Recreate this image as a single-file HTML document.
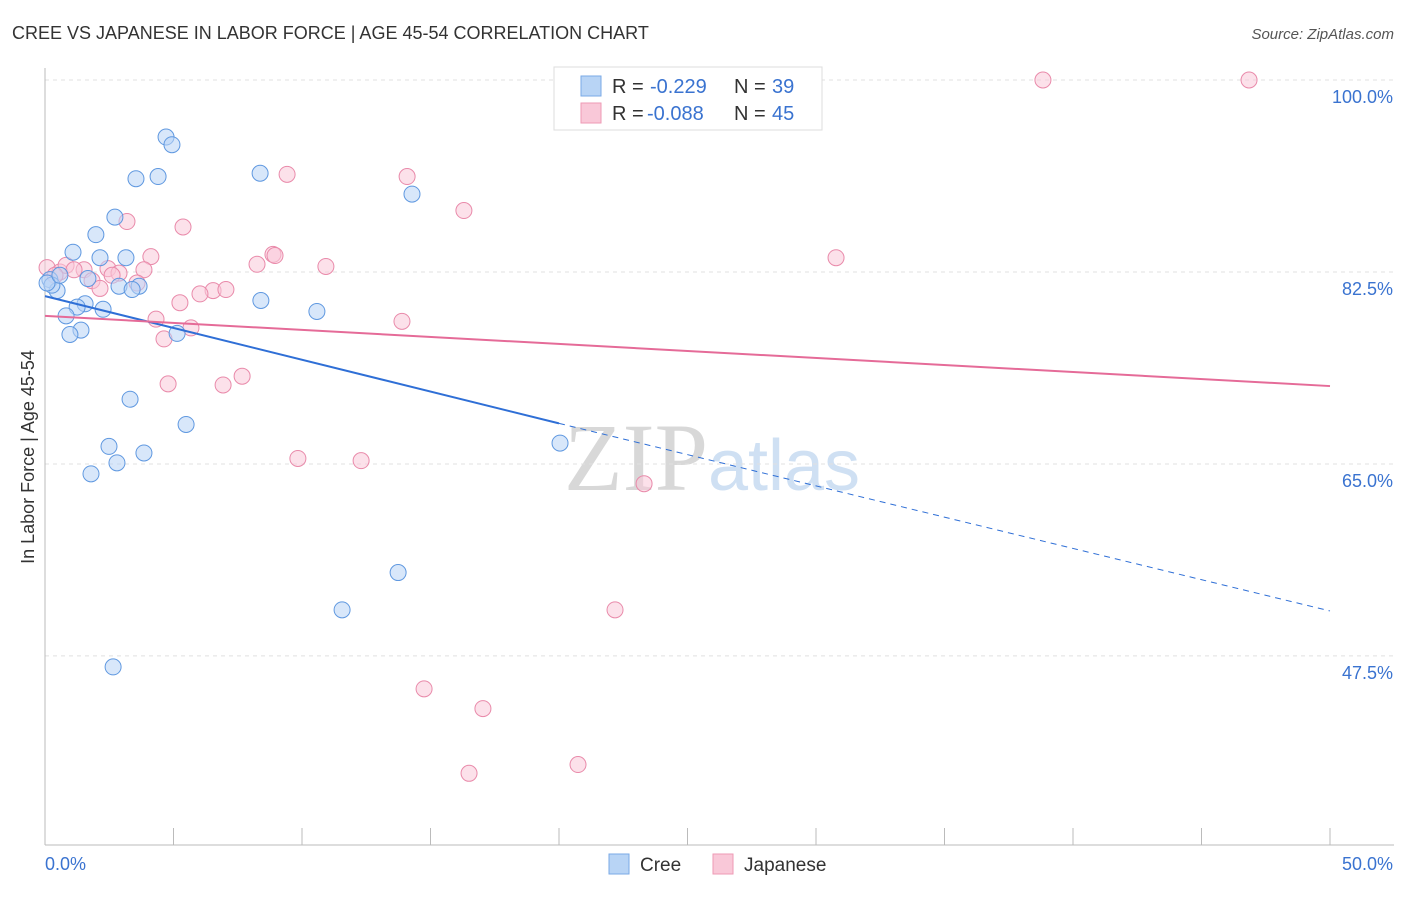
<!DOCTYPE html>
<html><head><meta charset="utf-8"><style>
body{margin:0;background:#fff;font-family:"Liberation Sans",sans-serif;}
svg text{font-family:"Liberation Sans",sans-serif;}
</style></head><body>
<svg id="chart" width="1406" height="892" xmlns="http://www.w3.org/2000/svg">
<text x="12" y="39" font-size="18" fill="#333">CREE VS JAPANESE IN LABOR FORCE | AGE 45-54 CORRELATION CHART</text>
<text x="1394" y="39" font-size="15" fill="#555" text-anchor="end" font-style="italic">Source: ZipAtlas.com</text>
<text x="712" y="490" font-size="96" text-anchor="middle"><tspan fill="#d8d8d8" font-family="Liberation Serif">ZIP</tspan><tspan fill="#cfe0f3" font-size="72">atlas</tspan></text>
<g id="grid"></g><g id="axes"></g><g id="marks"></g>
<text transform="translate(34,457) rotate(-90)" font-size="18" fill="#333" text-anchor="middle">In Labor Force | Age 45-54</text>
<g>
<rect x="554" y="67" width="268" height="63" fill="#fff" stroke="#ddd"/>
<rect x="581" y="76" width="20" height="20" fill="#b8d4f5" stroke="#7aaae6"/>
<rect x="581" y="103" width="20" height="20" fill="#f9c8d8" stroke="#ee9ab4"/>
<text x="612" y="93" font-size="20" fill="#333">R =</text>
<text x="650" y="93" font-size="20" fill="#3a73d0">-0.229</text>
<text x="734" y="93" font-size="20" fill="#333">N =</text>
<text x="772" y="93" font-size="20" fill="#3a73d0">39</text>
<text x="612" y="120" font-size="20" fill="#333">R =</text>
<text x="647" y="120" font-size="20" fill="#3a73d0">-0.088</text>
<text x="734" y="120" font-size="20" fill="#333">N =</text>
<text x="772" y="120" font-size="20" fill="#3a73d0">45</text>
</g>
<g>
<rect x="609" y="854" width="20" height="20" fill="#b8d4f5" stroke="#7aaae6"/>
<text x="640" y="871" font-size="19" fill="#333">Cree</text>
<rect x="713" y="854" width="20" height="20" fill="#f9c8d8" stroke="#ee9ab4"/>
<text x="744" y="871" font-size="19" fill="#333">Japanese</text>
</g>
</svg>
<script>
const creeX=[4.71,4.94,3.54,4.40,8.37,14.28,2.72,1.98,1.09,2.14,3.15,1.67,2.88,3.66,3.39,0.19,0.47,0.27,1.56,1.25,2.26,0.82,1.40,0.97,8.40,10.58,5.14,3.31,5.49,2.49,3.85,2.80,1.79,20.04,13.74,11.56,2.65,0.08,0.58];
const creeY=[94.8,94.1,91.0,91.2,91.5,89.6,87.5,85.9,84.3,83.8,83.8,81.9,81.2,81.2,80.9,81.8,80.8,81.3,79.6,79.3,79.1,78.5,77.2,76.8,79.9,78.9,76.9,70.9,68.6,66.6,66.0,65.1,64.1,66.9,55.1,51.7,46.5,81.5,82.2];
const japX=[38.83,46.85,9.42,14.09,16.30,3.19,5.37,8.87,8.95,4.12,8.25,10.93,30.78,0.08,0.58,0.82,1.52,2.45,2.88,3.85,1.83,2.14,3.58,6.54,7.04,6.03,5.25,4.32,5.68,4.63,13.89,7.67,4.79,6.93,9.84,12.30,23.31,22.18,14.75,17.04,16.50,20.74,0.39,1.13,2.61];
const japY=[100,100,91.4,91.2,88.1,87.1,86.6,84.1,84.0,83.9,83.2,83.0,83.8,82.9,82.5,83.1,82.7,82.8,82.4,82.7,81.7,81.0,81.5,80.8,80.9,80.5,79.7,78.2,77.4,76.4,78.0,73.0,72.3,72.2,65.5,65.3,63.2,51.7,44.5,42.7,36.8,37.6,82.2,82.7,82.2];
const yTicks=[100,82.5,65,47.5];
const yTickLabels=["100.0%","82.5%","65.0%","47.5%"];
const creeTrend=[[0,80.3],[20,68.7],[50,51.6]];
const japTrend=[[0,78.5],[50,72.1]];
const xs=v=>45+v*25.7, ys=v=>80+(100-v)*10.97;
const NS="http://www.w3.org/2000/svg";
function mk(p,t,a){const e=document.createElementNS(NS,t);for(const k in a)e.setAttribute(k,a[k]);p.appendChild(e);return e;}
const grid=document.getElementById('grid'),axes=document.getElementById('axes'),marks=document.getElementById('marks');
yTicks.forEach((v,i)=>{
 const l=mk(grid,'line',{x1:45,x2:1394,y1:ys(v),y2:ys(v),stroke:'#e0e0e0','stroke-dasharray':'4,4'});
 
 
 const t=mk(axes,'text',{x:1393,y:ys(v)+23,'font-size':18,fill:'#3a73d0','text-anchor':'end'});
 t.textContent=yTickLabels[i];
 
 
});
let a=mk(axes,'line',{x1:45,x2:45,y1:68,y2:845,stroke:'#bbb'});


a=mk(axes,'line',{x1:45,x2:1394,y1:845,y2:845,stroke:'#bbb'});


for(let i=0;i<=10;i++){const x=xs(i*5);const t=mk(axes,'line',{x1:x,x2:x,y1:828,y2:845,stroke:'#bbb'});
 
 }
[["0.0%",45,'start'],["50.0%",1393,'end']].forEach(d=>{const t=mk(axes,'text',{x:d[1],y:870,'font-size':18,fill:'#3a73d0','text-anchor':d[2]});t.textContent=d[0];
 
 });
function pts(X,Y,fill,stroke,name){X.forEach((x,i)=>{const c=mk(marks,'circle',{cx:xs(x),cy:ys(Y[i]),r:8,fill:fill,'fill-opacity':0.55,stroke:stroke,'stroke-width':1});
 
 });}
pts(japX,japY,'#f9c8d8','#e98aaa','japanese-point');
pts(creeX,creeY,'#b8d4f5','#5f98e0','cree-point');
let l=mk(marks,'line',{x1:xs(creeTrend[0][0]),y1:ys(creeTrend[0][1]),x2:xs(creeTrend[1][0]),y2:ys(creeTrend[1][1]),stroke:'#2f6fd6','stroke-width':2});


l=mk(marks,'line',{x1:xs(creeTrend[1][0]),y1:ys(creeTrend[1][1]),x2:xs(creeTrend[2][0]),y2:ys(creeTrend[2][1]),stroke:'#2f6fd6','stroke-width':1,'stroke-dasharray':'6,5'});


l=mk(marks,'line',{x1:xs(japTrend[0][0]),y1:ys(japTrend[0][1]),x2:xs(japTrend[1][0]),y2:ys(japTrend[1][1]),stroke:'#e56b98','stroke-width':2});


</script>
</body></html>
